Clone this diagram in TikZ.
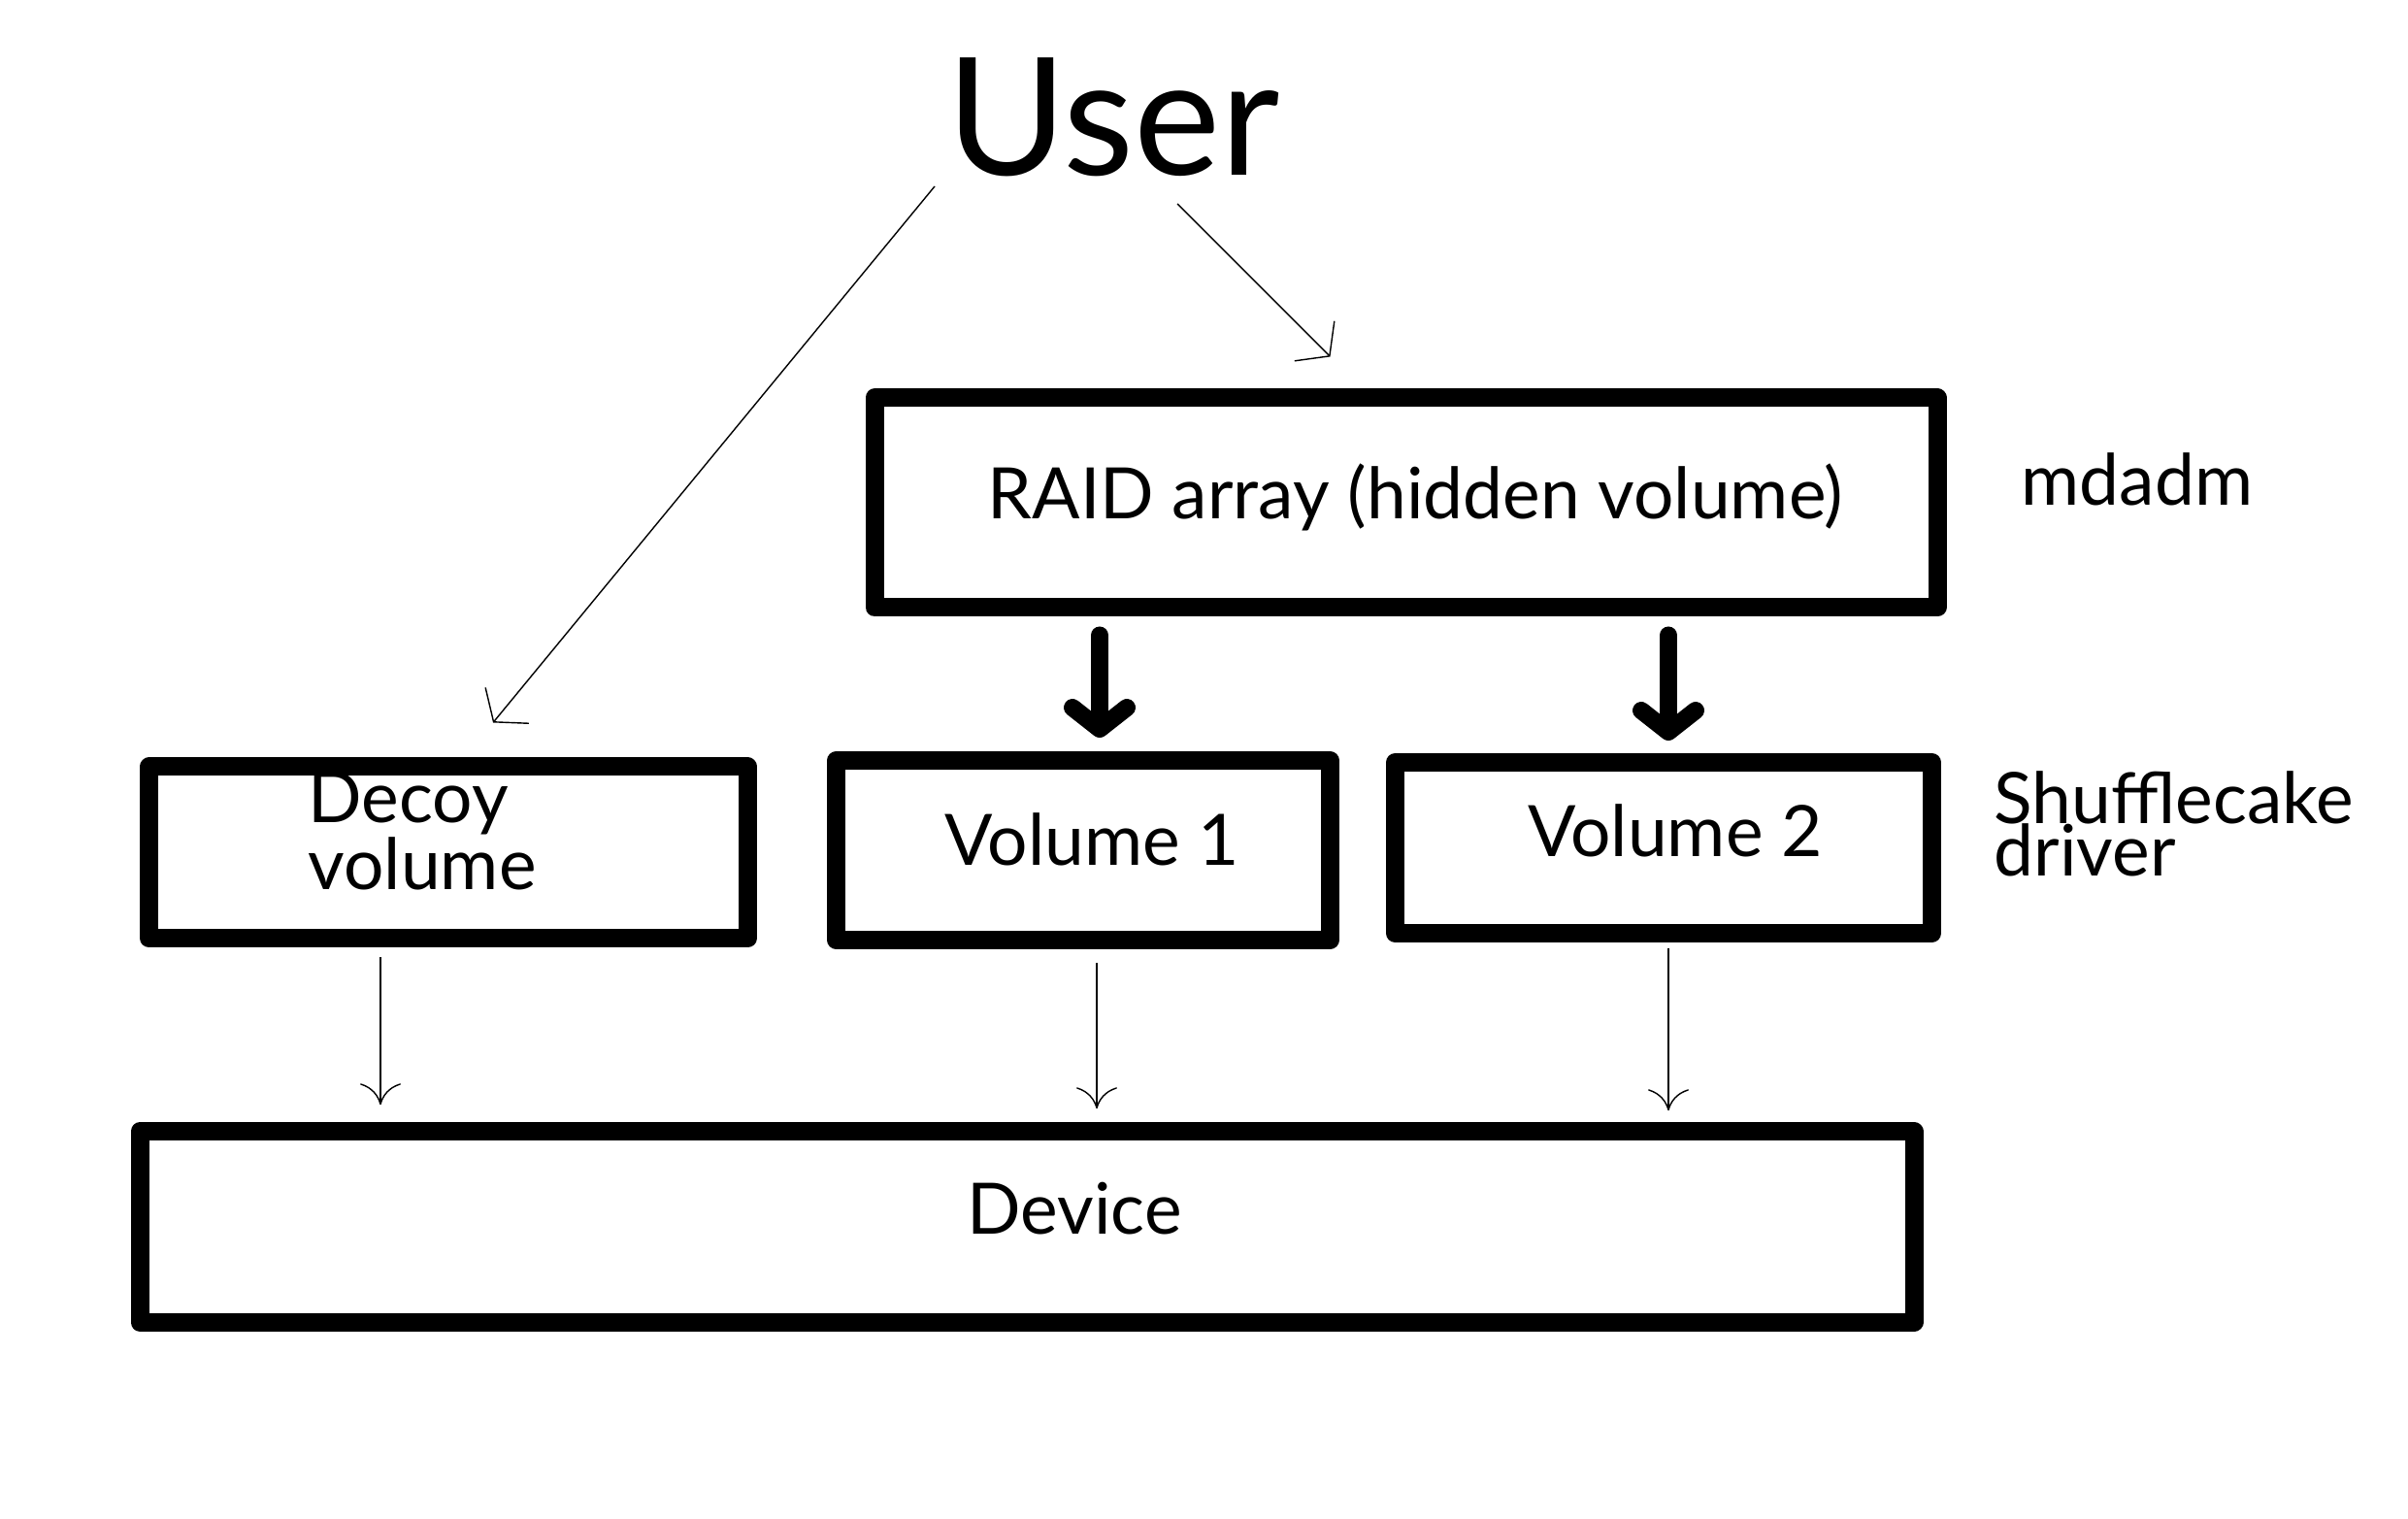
\documentclass[tikz,border=0pt]{standalone}
\usepackage{fontspec}
\setmainfont{Lato}
\usetikzlibrary{arrows.meta,positioning}

\begin{document}
\begin{tikzpicture}
%Shufflecake layers
	[
	 	 %Styles
       inner sep=0pt,
       layer_box/.style={rectangle,draw=black,line width=1.9mm,line join=round,minimum width=#1},
       label_text/.style={font=\fontsize{20.8}{15.6}\selectfont,inner sep=0pt},
       user_text/.style={font=\fontsize{48}{50}\selectfont,inner sep=0pt},
       thin_arrow/.style={draw=black,thin,-{Computer Modern Rightarrow[length=2.2mm,width=4.2mm]}},
       user_arrow/.style={draw=black,thin,-{Straight Barb[length=2.2mm,width=5.8mm]}},
       thick_arrow/.style={draw=black,line width=1.8mm,line cap=round,-{Straight Barb[round,length=2.2mm,width=5.6mm]}}
    ]
    \useasboundingbox (0,0) rectangle (24.81,-15.65);

    %Node placement
    \node (user) [user_text,anchor=base] at (11.47,-1.81) {User};
    %Level mdadm
    \node (raid) [layer_box=10.95cm,minimum height=2.16cm] at (14.485,-5.18) {};
    \node (raidtext) [label_text,anchor=base] at (14.585,-5.35) {RAID array (hidden volume)};
    \node (mdadm) [label_text,anchor=base west] at (20.82,-5.21) {mdadm};
    %Level Shufflecake
    \node (decoy) [layer_box=6.165cm,minimum height=1.77cm] at (4.62,-8.785) {};
    \node (decoytext) [label_text,anchor=base west,align=left] at (3.17,-9.17) {Decoy\\volume};
    \node (vol1) [layer_box=5.085cm,minimum height=1.85cm] at (11.16,-8.76) {};
    \node (vol1text) [label_text,anchor=base] at (11.255,-8.92) {Volume 1};
    \node (vol2) [layer_box=5.53cm,minimum height=1.76cm] at (17.14,-8.735) {};
    \node (vol2text) [label_text,anchor=base] at (17.26,-8.83) {Volume 2};
    \node (shuffle) [label_text,anchor=base west,align=left] at (20.54,-9.03) {Shufflecake\\driver};
    %Level device
    \node (device) [layer_box=18.28cm,minimum height=1.965cm] at (10.58,-12.64) {};
    \node (devtext) [label_text,anchor=base] at (11.07,-12.72) {Device};

    %Edges
    \path
       ([shift={(-1.84,-0.11)}]user.base) edge [user_arrow] ([shift={(0.46,0.36)}]decoy.north)
       ([shift={(0.66,-0.29)}]user.base) edge [user_arrow] ([shift={(-0.78,0.33)}]raid.north)
       ([xshift=-3.155cm]raid.south) edge [thick_arrow,shorten <=1.9mm,shorten >=1.4mm] ([xshift=-3.155cm]raid.south |- vol1.north)
       ([xshift=2.705cm]raid.south) edge [thick_arrow,shorten <=1.9mm,shorten >=1.3mm] ([xshift=2.705cm]raid.south |- vol2.north)
       ([xshift=-7mm]decoy.south) edge [thin_arrow,shorten <=1mm,shorten >=1.8mm] ([xshift=-7mm]decoy.south |- device.north)
       ([xshift=1.4mm]vol1.south) edge [thin_arrow,shorten <=1.4mm,shorten >=1.4mm] ([xshift=1.4mm]vol1.south |- device.north)
       ([xshift=0.5mm]vol2.south) edge [thin_arrow,shorten <=0.6mm,shorten >=1.2mm] ([xshift=0.5mm]vol2.south |- device.north);
\end{tikzpicture}
\end{document}
